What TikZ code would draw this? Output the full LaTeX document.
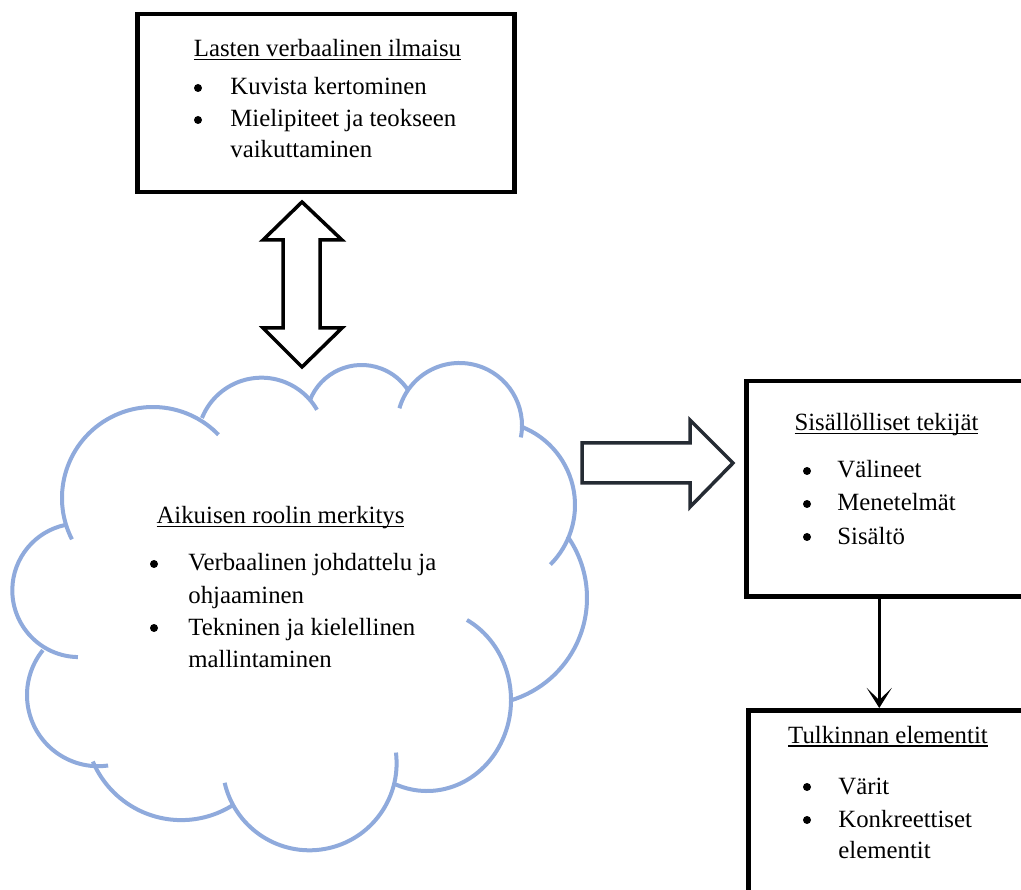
\documentclass[tikz,border=0pt]{standalone}
\usepackage{fontspec}
\setmainfont{Liberation Serif}
\usetikzlibrary{arrows.meta, positioning}
\definecolor{cloudblue}{RGB}{143,170,220}
\definecolor{arrowgray}{RGB}{37,43,51}
\newlength\ttlwidth
\newcommand\ttlline[1]{\settowidth\ttlwidth{#1}\rlap{\rule[-3.5pt]{\ttlwidth}{1.6pt}}#1}

\begin{document}
\begin{tikzpicture}[x=1pt, y=-1pt, thick,
    box/.style={draw, line width=4.5pt, anchor=north west, inner sep=0pt},
    ttl/.style={anchor=base, inner sep=0pt, font=\fontsize{24.8}{32}\selectfont},
    txt/.style={anchor=base west, inner sep=0pt, font=\fontsize{24.8}{32}\selectfont},
    dot/.style={circle, fill, inner sep=0pt, minimum size=8pt, yshift=7pt},
    blockarrow/.style={draw, line width=3.5pt, fill=white, line join=miter},
    cloudline/.style={draw=cloudblue, line width=4pt},
    conn/.style={line width=3.5pt, -{Stealth[length=20pt, width=25pt, inset=12pt]}}]
  \useasboundingbox (0,0) rectangle (1021,890);
  \fill[white] (0,0) rectangle (1021,890);
  \clip (0,0) rectangle (1021,890);

  % top box
  \node[box, minimum width=377pt, minimum height=178pt] (verbal) at (135,12) {};
  \node[ttl] (verbalTtl) at (327.5,57) {\ttlline{Lasten verbaalinen ilmaisu}};
  \node[dot] (verbalDot1) at (198,95) {};
  \node[txt] (verbalA) at (230,95) {Kuvista kertominen};
  \node[dot] (verbalDot2) at (198,127) {};
  \node[txt] (verbalB) at (230,127) {Mielipiteet ja teokseen};
  \node[txt] (verbalB2) at (230,158) {vaikuttaminen};

  % double arrow
  \draw[blockarrow] (302,202) -- (342,240) -- (320,240) -- (320,328) -- (342,328)
    -- (302,367) -- (263,328) -- (283,328) -- (283,240) -- (263,240) -- cycle;

  % cloud
  \draw[cloudline] (153,498) ++(153:91) arc[start angle=153, end angle=316, radius=91];
  \draw[cloudline] (261.5,441.8) ++(201.8:64.1) arc[start angle=201.8, end angle=330, radius=64.1];
  \draw[cloudline] (361.6,420.5) ++(201:55.5) arc[start angle=201, end angle=327, radius=55.5];
  \draw[cloudline] (459.5,425.5) ++(196:62.5) arc[start angle=196, end angle=371, radius=62.5];
  \draw[cloudline] (490.9,505.1) ++(291:84.1) arc[start angle=291, end angle=405, radius=84.1];
  \draw[cloudline] (480,597.9) ++(325:107) arc[start angle=325, end angle=433, radius=107];
  \draw[cloudline] (427,700) ++(298.4:84 and 91) arc[start angle=298.4, end angle=472, x radius=84, y radius=91];
  \draw[cloudline] (309.5,763.2) ++(-7:87.1) arc[start angle=-7, end angle=167, radius=87.1];
  \draw[cloudline] (181.3,724) ++(57:96.1) arc[start angle=57, end angle=157, radius=96.1];
  \draw[cloudline] (98.2,695) ++(82:71.2) arc[start angle=82, end angle=219, radius=71.2];
  \draw[cloudline] (79.1,590.3) ++(91:66.8) arc[start angle=91, end angle=258, radius=66.8];

  % cloud text
  \node[ttl] (roleTtl) at (280.5,524) {\ttlline{Aikuisen roolin merkitys}};
  \node[dot] (roleDot1) at (154,571) {};
  \node[txt] (roleA) at (188,571) {Verbaalinen johdattelu ja};
  \node[txt] (roleA2) at (188,603) {ohjaaminen};
  \node[dot] (roleDot2) at (154,635) {};
  \node[txt] (roleB) at (188,635) {Tekninen ja kielellinen};
  \node[txt] (roleB2) at (188,667) {mallintaminen};

  % right arrow
  \draw[blockarrow, draw=arrowgray] (582,443) -- (690,443) -- (690,420) -- (733,463)
    -- (690,507) -- (690,483) -- (582,483) -- cycle;

  % right boxes
  \node[box, minimum width=300pt, minimum height=215pt] (sisalto) at (744,379) {};
  \node[ttl] (sisTtl) at (886.5,431) {\ttlline{Sisällölliset tekijät}};
  \node[dot] (sisDot1) at (807,478) {};
  \node[txt] (sisA) at (837,478) {Välineet};
  \node[dot] (sisDot2) at (807,511) {};
  \node[txt] (sisB) at (837,511) {Menetelmät};
  \node[dot] (sisDot3) at (807,544) {};
  \node[txt] (sisC) at (837,544) {Sisältö};

  \node[box, minimum width=300pt, minimum height=200pt] (tulkinta) at (746,708) {};
  \node[ttl] (tulkTtl) at (888,743) {\ttlline{Tulkinnan elementit}};
  \node[dot] (tulkDot1) at (807,794) {};
  \node[txt] (tulkA) at (838,794) {Värit};
  \node[dot] (tulkDot2) at (807,827) {};
  \node[txt] (tulkB) at (838,827) {Konkreettiset};
  \node[txt] (tulkB2) at (838,858) {elementit};

  \draw[conn] ([xshift=-17pt]sisalto.south) -- ([xshift=-17pt]sisalto.south |- tulkinta.north);
\end{tikzpicture}
\end{document}
